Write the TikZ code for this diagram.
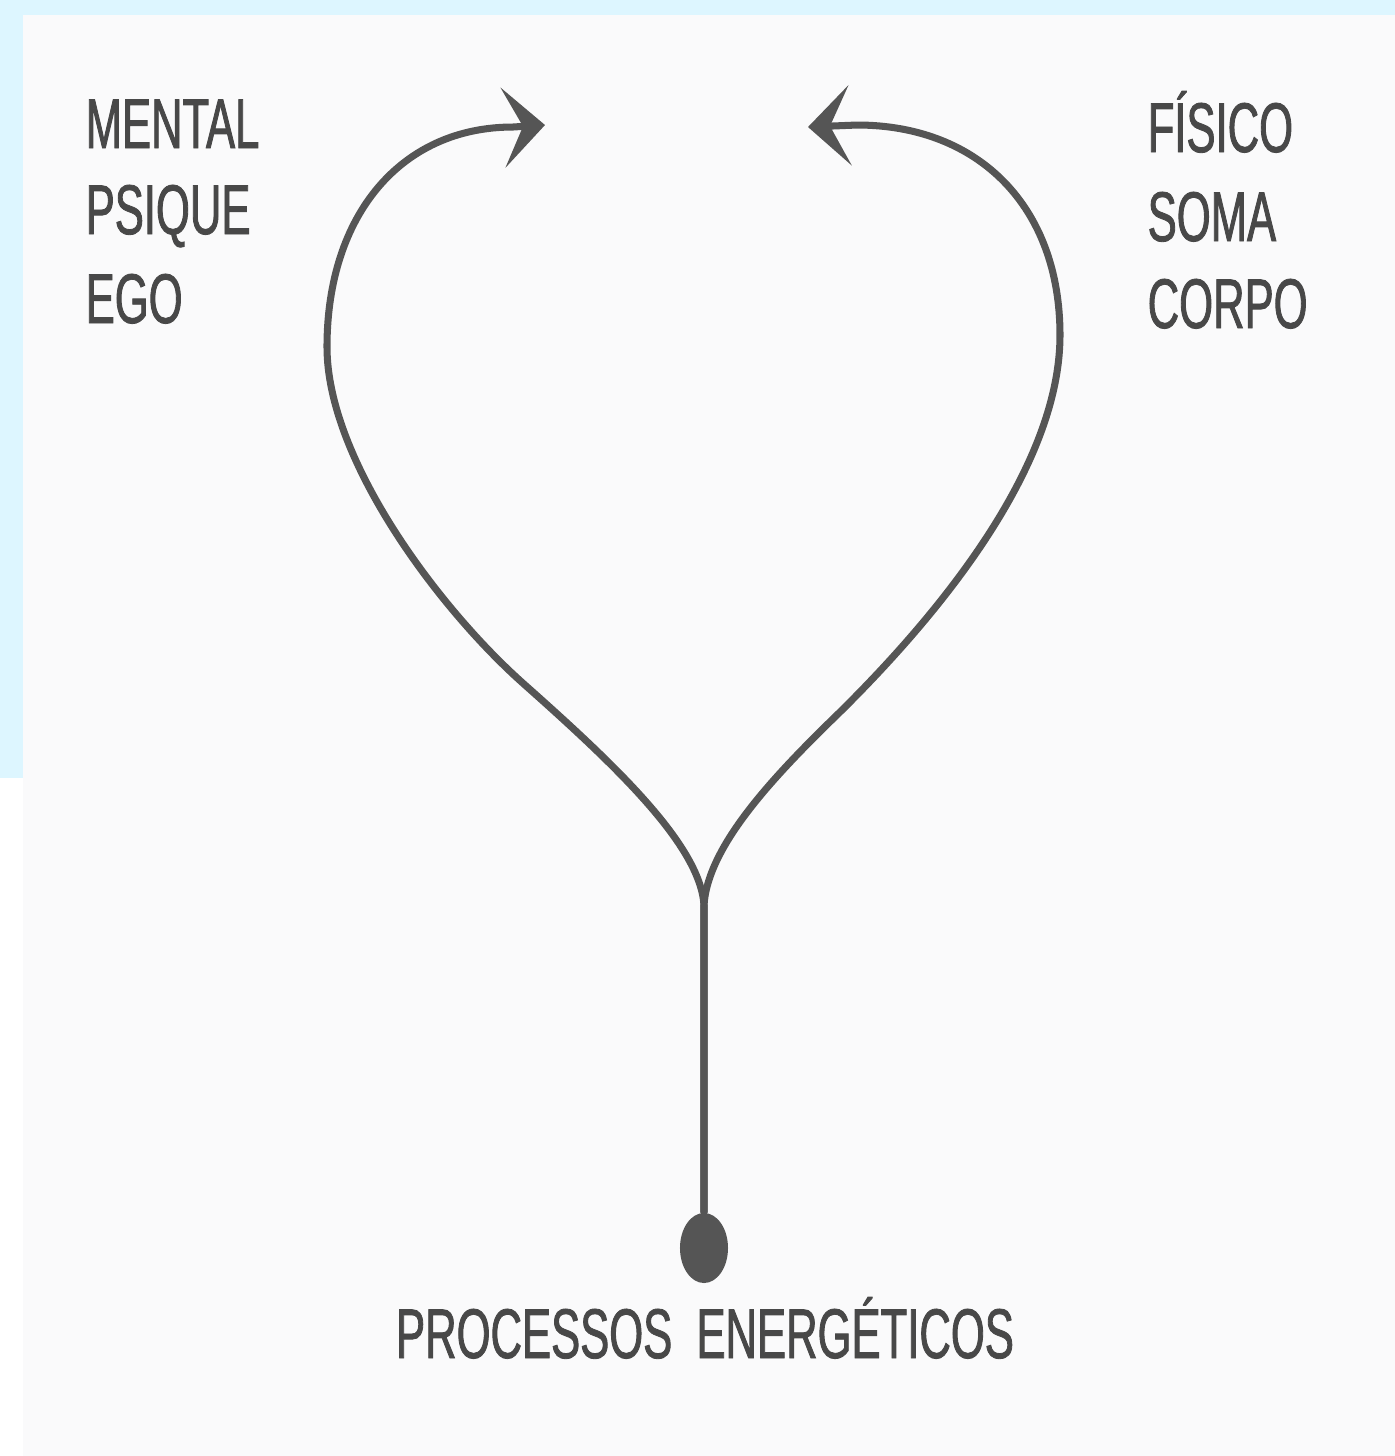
\documentclass[tikz,border=0pt]{standalone}
\usepackage{fontspec}
\setmainfont{Liberation Sans}[FakeStretch=0.62, FakeBold=1.2]
\usetikzlibrary{arrows.meta, shapes.geometric}
\definecolor{slideblue}{RGB}{221,246,255}
\definecolor{paper}{RGB}{250,250,251}
\definecolor{ink}{RGB}{85,85,85}
\definecolor{inktext}{RGB}{72,72,72}

\begin{document}
\begin{tikzpicture}[
    x=0.01cm, y=-0.01cm,
    rotulo/.style={
        anchor=base west,
        inner sep=0pt,
        text=inktext,
        font=\fontsize{20}{24}\selectfont
    },
    fluxo/.style={
        draw=ink,
        line width=2pt,
        line cap=round,
        -{Stealth[length=4.2mm, width=8mm, inset=2mm]}
    },
    fonte/.style={
        ellipse,
        fill=ink,
        inner sep=0pt,
        minimum width=0.48cm,
        minimum height=0.7cm
    }
]

% fundo do slide
\fill[slideblue] (0,0) rectangle (1395,1456);
\fill[white] (0,778) rectangle (23,1456);
\fill[paper] (23,15) rectangle (1395,1456);
\useasboundingbox (0,0) rectangle (1395,1456);

\node[rotulo] (mental) at (85,148) {MENTAL};
\node[rotulo] (psique) at (85,234) {PSIQUE};
\node[rotulo] (ego) at (85,323) {EGO};

\node[rotulo] (fisico) at (1147,152) {FÍSICO};
\node[rotulo] (soma) at (1147,241) {SOMA};
\node[rotulo] (corpo) at (1147,328) {CORPO};

\node[rotulo, anchor=base] (energia) at (705,1358) {PROCESSOS\ \ ENERGÉTICOS};

\node[fonte] (src) at (704,1248) {};
\coordinate (fork) at (704,905);
\coordinate (mentaltip) at (545,125);
\coordinate (fisicotip) at (808,127);

\draw[fluxo] (src.north) -- (fork) .. controls (700,845) and (615,765) .. (525,685)
    .. controls (440,610) and (327,460) .. (327,347)
    .. controls (327,215) and (401,127) .. (513,127) -- (mentaltip);
\draw[fluxo] (src.north) -- (fork) .. controls (708,845) and (775,775) .. (840,712)
    .. controls (925,628) and (1060,475) .. (1060,335)
    .. controls (1060,207) and (979,125) .. (857,125) -- (fisicotip);

\end{tikzpicture}
\end{document}
